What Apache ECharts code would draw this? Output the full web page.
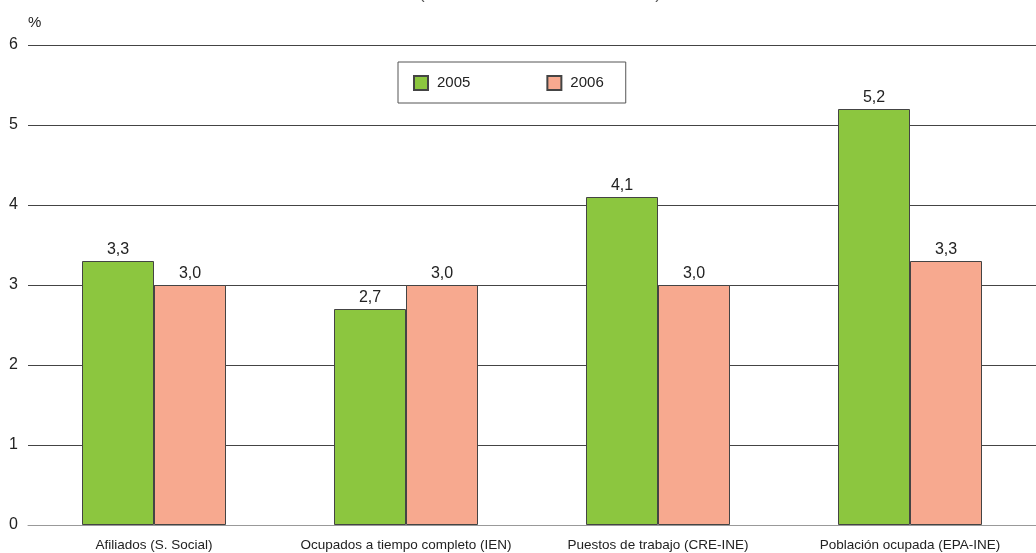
<!DOCTYPE html>
<html><head><meta charset="utf-8">
<script src="https://cdn.jsdelivr.net/npm/echarts@6/dist/echarts.min.js"></script>
<style>html,body{margin:0;padding:0;background:#fff}#c{width:1036px;height:553px}</style>
</head><body><div id="c"></div>
<script>
var categories = ["Afiliados (S. Social)", "Ocupados a tiempo completo (IEN)", "Puestos de trabajo (CRE-INE)", "Población ocupada (EPA-INE)"];
var seriesNames = ["2005", "2006"];
var values2005 = [3.3, 2.7, 4.1, 5.2];
var values2006 = [3.0, 3.0, 3.0, 3.3];
var yTicks = [0, 1, 2, 3, 4, 5, 6];

var chart = echarts.init(document.getElementById('c'), null, {renderer: 'canvas'});
function fmt(p){ return p.value.toFixed(1).replace('.', ','); }
chart.setOption({
  animation: false,
  title: {
    text: '(Tasas de variación anual en %)',
    left: 535, textAlign: 'center', top: -19,
    textStyle: {fontFamily: 'Liberation Sans', fontSize: 17, fontWeight: 'normal', color: '#555'}
  },
  legend: {
    left: 398, top: 62,
    padding: [13, 22, 12, 15],
    borderColor: '#555', borderWidth: 1,
    backgroundColor: '#fff',
    itemWidth: 14, itemHeight: 14, itemGap: 76,
    textStyle: {fontFamily: 'Liberation Sans', fontSize: 15, color: '#222', padding: [0, 0, 0, 4]},
    data: seriesNames.map(function(n){ return {name: n, icon: 'rect'}; })
  },
  grid: {left: 28, right: 0, top: 45, bottom: 28, containLabel: false},
  xAxis: {
    type: 'category', data: categories,
    axisTick: {show: false},
    axisLine: {lineStyle: {color: '#999', width: 1}},
    axisLabel: {fontFamily: 'Liberation Sans', fontSize: 13.5, color: '#222', margin: 13, interval: 0}
  },
  yAxis: {
    type: 'value', min: yTicks[0], max: yTicks[yTicks.length - 1], interval: 1,
    name: '%', nameLocation: 'end', nameGap: 15,
    nameTextStyle: {fontFamily: 'Liberation Sans', fontSize: 15, color: '#222', align: 'left'},
    axisLine: {show: false}, axisTick: {show: false},
    axisLabel: {fontFamily: 'Liberation Sans', fontSize: 16, color: '#222', margin: 10},
    splitLine: {lineStyle: {color: '#444', width: 1}}
  },
  series: [
    {name: seriesNames[0], type: 'bar', data: values2005, barWidth: 72, barGap: '0%',
     itemStyle: {color: '#8cc63f', borderColor: '#444', borderWidth: 1},
     label: {show: true, position: 'top', formatter: fmt, fontFamily: 'Liberation Sans', fontSize: 16, color: '#222', distance: 3}},
    {name: seriesNames[1], type: 'bar', data: values2006, barWidth: 72, barGap: '0%',
     itemStyle: {color: '#f7a98f', borderColor: '#444', borderWidth: 1},
     label: {show: true, position: 'top', formatter: fmt, fontFamily: 'Liberation Sans', fontSize: 16, color: '#222', distance: 3}}
  ]
});
</script></body></html>
